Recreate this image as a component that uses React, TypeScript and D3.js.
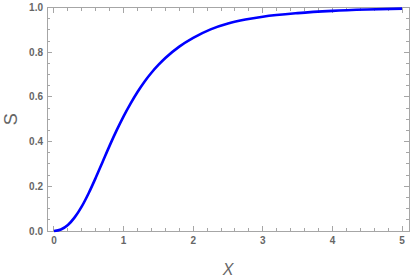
import React, { useEffect, useRef } from "react";
import * as d3 from "d3";

const WIDTH = 415;
const HEIGHT = 279;

// curve S(x)
const xValues = [0, 0.1, 0.2, 0.3, 0.4, 0.5, 0.6, 0.7, 0.8, 0.9, 1.0, 1.1, 1.2, 1.3, 1.4, 1.5, 1.6, 1.8, 2.0, 2.25, 2.5, 2.75, 3.0, 3.5, 4.0, 4.5, 5.0];
const sValues = [0, 0.007, 0.027, 0.062, 0.11, 0.17, 0.238, 0.31, 0.382, 0.45, 0.513, 0.57, 0.622, 0.668, 0.708, 0.743, 0.774, 0.825, 0.864, 0.902, 0.928, 0.946, 0.959, 0.975, 0.985, 0.991, 0.995];

const xTicks = [0, 1, 2, 3, 4, 5];
const yTicks = [0, 0.2, 0.4, 0.6, 0.8, 1.0];

const FRAME = { LEFT: 47, RIGHT: 409, TOP: 7.5, BOTTOM: 231 };
const FRAME_COLOR = "#a6a6a6";
const TEXT_COLOR = "#666666";

const App = () => {
  const svgRef = useRef<SVGSVGElement>(null);

  useEffect(() => {
    const svg = d3.select(svgRef.current);
    svg.selectAll("*").remove();

    const xScale = d3.scaleLinear().domain([-0.1, 5.1]).range([FRAME.LEFT, FRAME.RIGHT]);
    const yScale = d3.scaleLinear().domain([0, 1]).range([FRAME.BOTTOM, FRAME.TOP]);

    const xMinor = d3.range(0, 5.01, 0.2).filter((v) => Math.abs(v - Math.round(v)) > 1e-6);
    const yMinor = d3.range(0, 1.001, 0.05).filter((v) => Math.abs(v * 5 - Math.round(v * 5)) > 1e-6);

    const g = svg.append("g").attr("stroke", FRAME_COLOR).attr("stroke-width", 1).attr("shape-rendering", "crispEdges");

    // ticks pointing inward on all four sides
    const drawX = (vals: number[], len: number) => {
      vals.forEach((v) => {
        const x = xScale(v);
        g.append("line").attr("x1", x).attr("x2", x).attr("y1", FRAME.BOTTOM).attr("y2", FRAME.BOTTOM - len);
        g.append("line").attr("x1", x).attr("x2", x).attr("y1", FRAME.TOP).attr("y2", FRAME.TOP + len);
      });
    };
    const drawY = (vals: number[], len: number) => {
      vals.forEach((v) => {
        const y = yScale(v);
        g.append("line").attr("y1", y).attr("y2", y).attr("x1", FRAME.LEFT).attr("x2", FRAME.LEFT + len);
        g.append("line").attr("y1", y).attr("y2", y).attr("x1", FRAME.RIGHT).attr("x2", FRAME.RIGHT - len);
      });
    };
    drawX(xTicks, 5);
    drawX(xMinor, 3);
    drawY(yTicks, 5);
    drawY(yMinor, 3);

    g.append("rect")
      .attr("x", FRAME.LEFT)
      .attr("y", FRAME.TOP)
      .attr("width", FRAME.RIGHT - FRAME.LEFT)
      .attr("height", FRAME.BOTTOM - FRAME.TOP)
      .attr("fill", "none");

    const labels = svg
      .append("g")
      .attr("font-family", "Liberation Sans, Arial, sans-serif")
      .attr("font-size", 10)
      .attr("font-weight", "bold")
      .attr("fill", TEXT_COLOR);

    labels
      .selectAll("text.xt")
      .data(xTicks)
      .join("text")
      .attr("class", "xt")
      .attr("x", (d) => xScale(d))
      .attr("y", FRAME.BOTTOM + 13)
      .attr("text-anchor", "middle")
      .text((d) => d3.format("d")(d));

    labels
      .selectAll("text.yt")
      .data(yTicks)
      .join("text")
      .attr("class", "yt")
      .attr("x", FRAME.LEFT - 4)
      .attr("y", (d) => yScale(d) + 3.5)
      .attr("text-anchor", "end")
      .text((d) => d3.format(".1f")(d));

    svg
      .append("text")
      .attr("transform", `translate(17,${(FRAME.TOP + FRAME.BOTTOM) / 2}) rotate(-90)`)
      .attr("text-anchor", "middle")
      .attr("font-family", "Liberation Sans, Arial, sans-serif")
      .attr("font-size", 18)
      .attr("fill", TEXT_COLOR)
      .text("S");

    svg
      .append("text")
      .attr("x", (FRAME.LEFT + FRAME.RIGHT) / 2)
      .attr("y", 275)
      .attr("text-anchor", "middle")
      .attr("font-family", "Liberation Sans, Arial, sans-serif")
      .attr("font-style", "italic")
      .attr("font-size", 16)
      .attr("fill", TEXT_COLOR)
      .text("X");

    const line = d3
      .line<number>()
      .x((d, i) => xScale(xValues[i]))
      .y((d) => yScale(d))
      .curve(d3.curveMonotoneX);

    svg
      .append("path")
      .datum(sValues)
      .attr("d", line)
      .attr("fill", "none")
      .attr("stroke", "#0000ff")
      .attr("stroke-width", 2.6)
      .attr("stroke-linejoin", "round");
  }, []);

  return (
    <svg
      ref={svgRef}
      width={WIDTH}
      height={HEIGHT}
      style={{ position: "absolute", left: 0, top: 0, background: "#ffffff" }}
    />
  );
};

export default App;
